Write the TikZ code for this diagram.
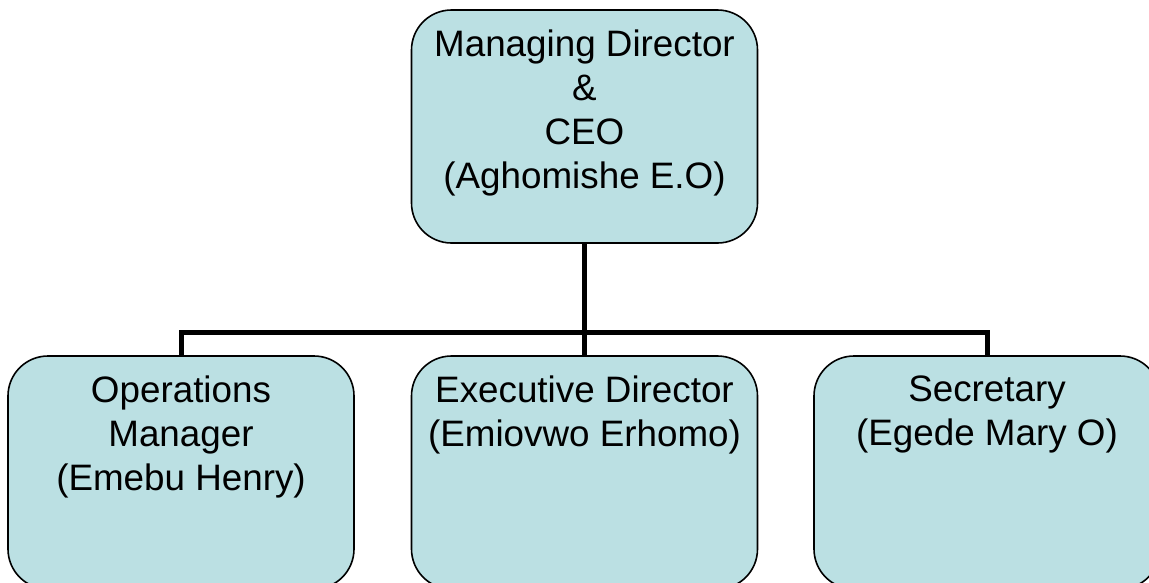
\documentclass[tikz,border=0pt]{standalone}
\usepackage{fontspec}
\setmainfont{Liberation Sans}
\usetikzlibrary{positioning}
\definecolor{boxfill}{HTML}{BBE0E3}

\begin{document}
\begin{tikzpicture}[x = 0.75pt, y = -0.75pt,
    post/.style = {draw, line width = 1.2pt, fill = boxfill, rounded corners = 30pt,
        minimum width = 259.5pt, minimum height = 174.75pt, inner sep = 0pt},
    who/.style = {align = center, inner sep = 0pt,
        font = \fontsize{27.6pt}{33pt}\selectfont},
    link/.style = {line width = 3.75pt}]
    \useasboundingbox (0,0) rectangle (1149,582);

    \coordinate (bar) at (584.5,332);

    \node [post] (md)  at (584.5,126.5) {};
    \node [post] (ops) at (181,472.5) {};
    \node [post] (exe) at (584.5,472.5) {};
    \node [post] (sec) at (987,472.5) {};

    \draw [link] (md.south) -- (exe.north);
    \draw [link] (ops.north) |- (bar) -| (sec.north);

    \node [who, below = 15.5pt of md.north] (md-who)
    {Managing Director\\ \&\\ CEO\\ (Aghomishe E.O)};
    \node [who, below = 15.5pt of ops.north] (ops-who)
    {Operations\\ Manager\\ (Emebu Henry)};
    \node [who, below = 15.5pt of exe.north] (exe-who)
    {Executive Director\\ (Emiovwo Erhomo)};
    \node [who, below = 15.5pt of sec.north] (sec-who)
    {Secretary\\ (Egede Mary O)};
\end{tikzpicture}
\end{document}
